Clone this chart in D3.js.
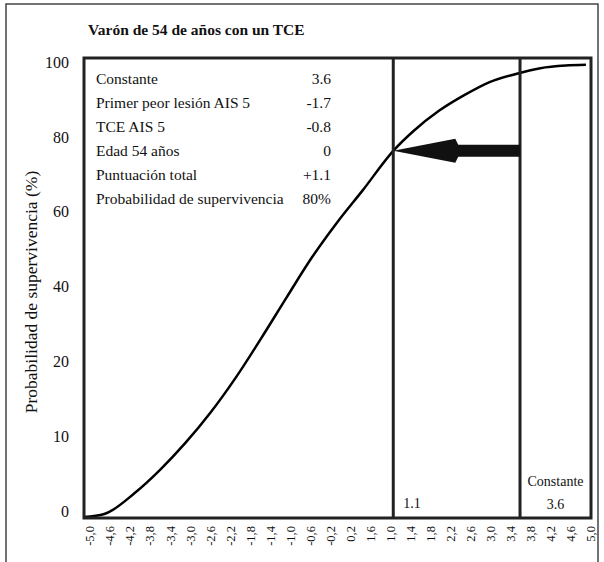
<!DOCTYPE html>
<html>
<head>
<meta charset="utf-8">
<script src="https://cdn.jsdelivr.net/npm/d3@7"></script>
<style>
body { margin: 0; background: #fff; }
text { font-family: "Liberation Serif", "DejaVu Serif", serif; fill: #111; }
</style>
</head>
<body>
<script>
var width = 604,
    height = 562;

var title = 'Varón de 54 de años con un TCE';
var yLabel = 'Probabilidad de supervivencia (%)';

// y axis ticks are evenly spaced though the values are not
var yTicks = [0, 10, 20, 40, 60, 80, 100];
var xTicks = d3.range(26).map(i => -5 + i * 0.4);
var xTickLabels = ['-5,0', '-4,6', '-4,2', '-3,8', '-3,4', '-3,0', '-2,6', '-2,2', '-1,8',
    '-1,4', '-1,0', '-0,6', '-0,2', '0,2', '1,6', '1,0', '1,4', '1,8', '2,2', '2,6',
    '3,0', '3,4', '3,8', '4,2', '4,6', '5,0'];

// survival curve
var curveX = [-5, -4.6, -4, -3.5, -3, -2.5, -2, -1.5, -1, -0.5, 0, 0.5, 1.1, 1.5, 2, 2.5, 3, 3.5, 4, 4.5, 4.9];
var curveY = [0, 0.4, 3.2, 6.3, 9.9, 14.0, 18.7, 27.9, 38.8, 49.5, 58.9, 67.4, 77.9, 83.2, 88.6, 92.8, 96.3, 98.4, 100, 100.7, 100.9];

var tableLabels = ['Constante', 'Primer peor lesión AIS 5', 'TCE AIS 5', 'Edad 54 años',
    'Puntuación total', 'Probabilidad de supervivencia'];
var tableValues = ['3.6', '-1.7', '-0.8', '0', '+1.1', '80%'];

var markers = [1.1, 3.6];
var arrowFrom = 3.6, arrowTo = 1.1, arrowLevel = 77.9;

var svg = d3.select('body')
    .append('svg')
    .attr('width', width)
    .attr('height', height);

// outer frame
svg.append('rect')
    .attr('x', 6).attr('y', 4)
    .attr('width', 592).attr('height', 570)
    .attr('fill', 'none')
    .attr('stroke', '#444')
    .attr('stroke-width', 1.5);

var plotLeft = 84, plotRight = 591, plotTop = 58, plotBottom = 518;

var x = d3.scaleLinear()
    .domain([-5, 5])
    .range([plotLeft, plotRight]);

var y = d3.scaleLinear()
    .domain(yTicks)
    .range(yTicks.map((d, i) => 517 - i * 74.8));

svg.append('text')
    .attr('x', 88).attr('y', 35)
    .style('font-weight', 'bold')
    .style('font-size', '15.5px')
    .text(title);

// y tick labels
svg.append('g').selectAll('text')
    .data(yTicks).enter()
    .append('text')
    .attr('x', 69)
    .attr('y', d => y(d) - 6)
    .attr('dy', '0.35em')
    .attr('text-anchor', 'end')
    .style('font-size', '16px')
    .text(d => d);

svg.append('text')
    .attr('transform', 'translate(37,292) rotate(-90)')
    .attr('text-anchor', 'middle')
    .style('font-size', '17.5px')
    .text(yLabel);

// x tick labels, rotated
svg.append('g').selectAll('text')
    .data(xTicks).enter()
    .append('text')
    .attr('transform', (d, i) => 'translate(' + (x(d) + 6 - i * 0.24) + ',526) rotate(-90)')
    .attr('dy', '0.35em')
    .attr('text-anchor', 'end')
    .style('font-size', '12.5px')
    .text((d, i) => xTickLabels[i]);

// table
var rows = svg.append('g').selectAll('g')
    .data(tableLabels).enter()
    .append('g')
    .attr('transform', (d, i) => 'translate(0,' + (79 + i * 24) + ')');

rows.append('text')
    .attr('x', 96)
    .attr('dy', '0.35em')
    .style('font-size', '15.5px')
    .text(d => d);

rows.append('text')
    .attr('x', 331)
    .attr('dy', '0.35em')
    .attr('text-anchor', 'end')
    .style('font-size', '15.5px')
    .text((d, i) => tableValues[i]);

// curve
var line = d3.line()
    .x(d => x(d[0]))
    .y(d => y(d[1]))
    .curve(d3.curveMonotoneX);

svg.append('path')
    .datum(curveX.map((d, i) => [d, curveY[i]]))
    .attr('d', line)
    .attr('fill', 'none')
    .attr('stroke', '#000')
    .attr('stroke-width', 2.5);

// marker lines
svg.append('g').selectAll('line')
    .data(markers).enter()
    .append('line')
    .attr('x1', d => x(d)).attr('x2', d => x(d))
    .attr('y1', plotTop).attr('y2', plotBottom)
    .attr('stroke', '#222')
    .attr('stroke-width', 3);

// arrow
var ax0 = x(arrowFrom), ax1 = x(arrowTo), ay = y(arrowLevel);
var headEnd = ax1 + 65;
svg.append('path')
    .attr('d', 'M' + ax0 + ',' + (ay - 6) +
        'L' + headEnd + ',' + (ay - 6) +
        'L' + (headEnd - 3) + ',' + (ay - 12) +
        'L' + ax1 + ',' + ay +
        'L' + (headEnd - 3) + ',' + (ay + 12) +
        'L' + headEnd + ',' + (ay + 6) +
        'L' + ax0 + ',' + (ay + 6) + 'Z')
    .attr('fill', '#111');

// plot frame
svg.append('rect')
    .attr('x', plotLeft).attr('y', plotTop)
    .attr('width', plotRight - plotLeft).attr('height', plotBottom - plotTop)
    .attr('fill', 'none')
    .attr('stroke', '#222')
    .attr('stroke-width', 3);

// annotations under the curve
svg.append('text')
    .attr('x', x(1.1) + 10).attr('y', 503)
    .attr('dy', '0.35em')
    .style('font-size', '14px')
    .text('1.1');

svg.append('text')
    .attr('x', (x(3.6) + plotRight) / 2).attr('y', 481)
    .attr('dy', '0.35em')
    .attr('text-anchor', 'middle')
    .style('font-size', '14px')
    .text('Constante');

svg.append('text')
    .attr('x', (x(3.6) + plotRight) / 2).attr('y', 504)
    .attr('dy', '0.35em')
    .attr('text-anchor', 'middle')
    .style('font-size', '14px')
    .text('3.6');
</script>
</body>
</html>
